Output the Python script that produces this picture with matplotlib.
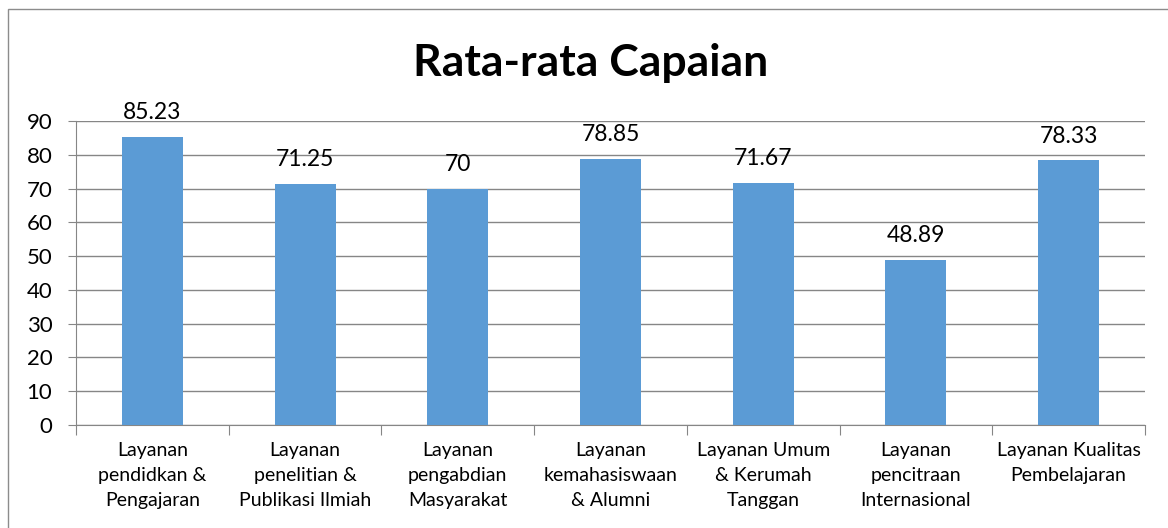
import numpy as np
import matplotlib
matplotlib.use("Agg")
import matplotlib.pyplot as plt
from matplotlib.patches import Rectangle

plt.rcParams["font.family"] = ["Lato", "DejaVu Sans"]

categories = [
    "Layanan\npendidkan &\nPengajaran",
    "Layanan\npenelitian &\nPublikasi Ilmiah",
    "Layanan\npengabdian\nMasyarakat",
    "Layanan\nkemahasiswaan\n& Alumni",
    "Layanan Umum\n& Kerumah\nTanggan",
    "Layanan\npencitraan\nInternasional",
    "Layanan Kualitas\nPembelajaran",
]
values = [85.23, 71.25, 70, 78.85, 71.67, 48.89, 78.33]
value_labels = ["85.23", "71.25", "70", "78.85", "71.67", "48.89", "78.33"]
y_ticks = [0, 10, 20, 30, 40, 50, 60, 70, 80, 90]

BAR_COLOR = "#5B9BD5"
GRID_COLOR = "#868686"

fig = plt.figure(figsize=(11.68, 5.28), dpi=100)
W, H = 1168, 528

# chart area border
fig.patches.append(Rectangle((8 / W, -0.1), 1.2, 1 - 9 / H + 0.1,
                             transform=fig.transFigure, fill=False,
                             edgecolor="#8C8C8C", linewidth=1))

ax = fig.add_axes([76 / W, 1 - 425 / H, (1145 - 76) / W, (425 - 121) / H])

x = np.arange(len(values))
ax.bar(x, values, width=0.4, color=BAR_COLOR, zorder=3)

for xi, v, lab in zip(x, values, value_labels):
    ax.annotate(lab, (xi, v), xytext=(0, 10), textcoords="offset points",
                ha="center", va="bottom", fontsize=16.5, color="black")

ax.set_xlim(-0.5, len(values) - 0.5)
ax.set_ylim(0, 90)
ax.set_yticks(y_ticks)
ax.tick_params(axis="y", labelsize=16, length=6, color=GRID_COLOR, pad=11)
ax.yaxis.grid(True, color=GRID_COLOR, linewidth=1, zorder=0)

ax.set_xticks(np.arange(-0.5, len(values), 1.0))
ax.set_xticklabels([])
ax.tick_params(axis="x", length=7, color=GRID_COLOR)
ax.set_xticks(x, minor=True)
ax.set_xticklabels(categories, minor=True, fontsize=14, linespacing=1.6)
ax.tick_params(axis="x", which="minor", length=0, pad=12)

for s in ["top", "right"]:
    ax.spines[s].set_visible(False)
for s in ["left", "bottom"]:
    ax.spines[s].set_color(GRID_COLOR)

fig.text(591 / W, 1 - 63 / H, "Rata-rata Capaian",
         ha="center", va="center", fontsize=32, fontweight="bold")

fig.savefig("out.png", dpi=100)
